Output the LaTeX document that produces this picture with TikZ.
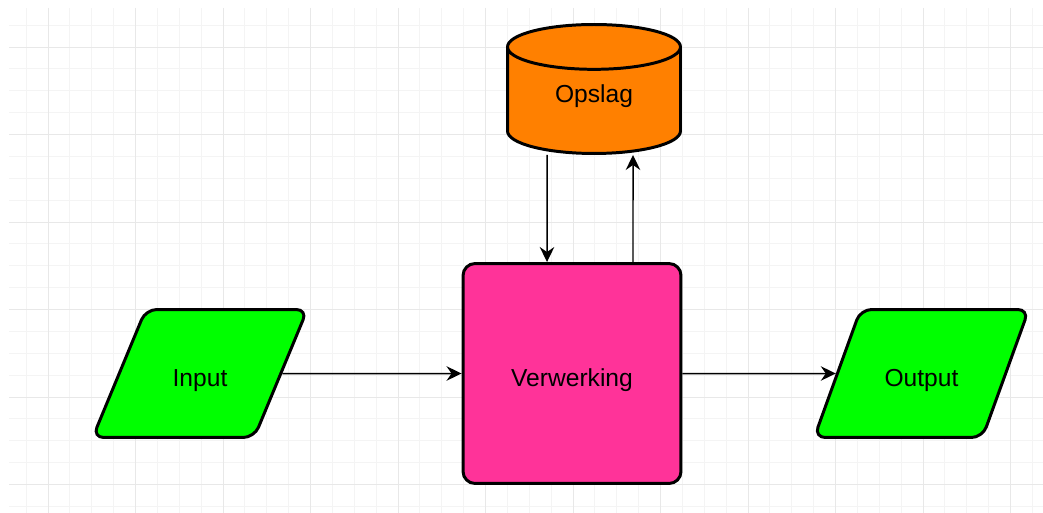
\documentclass[tikz,border=0pt]{standalone}
\usepackage{fontspec}
\setmainfont{Liberation Sans}
\usepackage{tikz}
\usetikzlibrary{positioning}
\usetikzlibrary{shapes}
\usetikzlibrary{arrows.meta}

\definecolor{iogroen}{RGB}{0,255,0}
\definecolor{procesroze}{RGB}{255,51,153}
\definecolor{opslagoranje}{RGB}{255,128,0}
\definecolor{rasterlicht}{RGB}{244,244,244}
\definecolor{rasterdonker}{RGB}{232,232,232}

\tikzset{
	tekst/.style={font=\fontsize{14}{17}\selectfont, text height=16pt, text depth=1pt},
	io/.style={trapezium, trapezium left angle=52, trapezium right angle=128, trapezium stretches=true, draw, line width=1.7pt, rounded corners=0.22cm, fill=iogroen, minimum width=4.32cm, minimum height=2.56cm, tekst},
	proces/.style={rectangle, draw, line width=1.7pt, rounded corners=0.24cm, fill=procesroze, minimum width=4.36cm, minimum height=4.4cm, tekst},
	opslagvat/.style={cylinder, shape border rotate=90, aspect=0.5, draw, line width=1.7pt, fill=opslagoranje, minimum width=3.46cm, minimum height=2.58cm, tekst, text height=8pt, text depth=11.4pt},
	pijl/.style={line width=0.85pt, -{Stealth[length=0.3cm, width=0.29cm, inset=0.1cm]}}
}

\begin{document}
\begin{tikzpicture}[x=0.02cm, y=-0.02cm]
				\useasboundingbox (0,0) rectangle (1043,513);
				% raster
				\foreach \i in {-1,...,45} {
					\draw[rasterlicht, line width=0.55pt] ({48+21.875*\i},8) -- ({48+21.875*\i},513);
				}
				\foreach \j in {-1,...,21} {
					\draw[rasterlicht, line width=0.55pt] (9,{47+21.875*\j}) -- (1043,{47+21.875*\j});
				}
				\foreach \i in {0,...,11} {
					\draw[rasterdonker, line width=0.55pt] ({48+87.5*\i},8) -- ({48+87.5*\i},513);
				}
				\foreach \j in {0,...,5} {
					\draw[rasterdonker, line width=0.55pt] (9,{47+87.5*\j}) -- (1043,{47+87.5*\j});
				}
				
				\node[io] (input) at (200,373.5) {Input};
				\node[proces] (verwerking) at (572,373.5) {Verwerking};
				\node[io] (output) at (921.5,373.5) {Output};
				\node[opslagvat] (opslag) at (594,105) {Opslag};
				
				\draw[pijl] (input) -- (verwerking);
				\draw[pijl] (verwerking) -- (output);
				\draw[pijl] ([xshift=-0.94cm]opslag.south) -- ([xshift=-0.5cm]verwerking.north);
				\draw[pijl] ([xshift=1.22cm]verwerking.north) -- ([xshift=0.78cm]opslag.south);
			\end{tikzpicture}
\end{document}
